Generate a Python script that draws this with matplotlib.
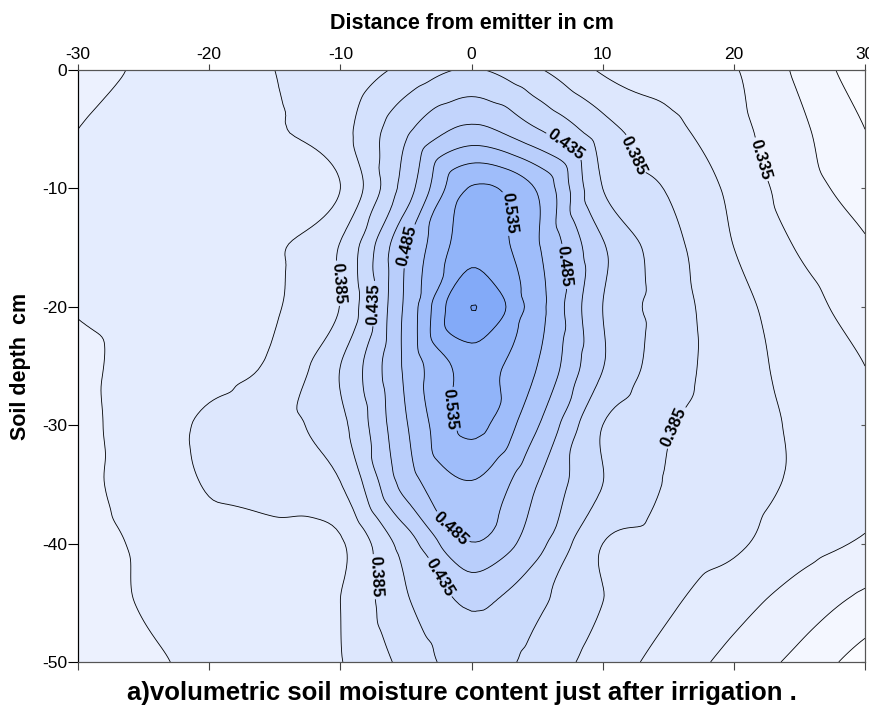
import numpy as np
import matplotlib
matplotlib.use('Agg')
import matplotlib.pyplot as plt
import matplotlib.tri as mtri
from matplotlib.colors import LinearSegmentedColormap, BoundaryNorm

plt.rcParams['font.family'] = ['Liberation Sans', 'DejaVu Sans']
plt.rcParams['axes.unicode_minus'] = False

# grid of readings: distance from emitter (cm) and soil depth (cm)
dist = [-30, -25, -20, -15, -10, -5, 0, 5, 10, 15, 20, 25, 30]
depth = [0, -5, -10, -15, -20, -25, -30, -35, -40, -45, -50]

# volumetric soil moisture, one row per depth
theta = [
    [0.325, 0.338, 0.349, 0.360, 0.366, 0.392, 0.412, 0.388, 0.357, 0.348, 0.337, 0.305, 0.268],
    [0.335, 0.340, 0.347, 0.358, 0.376, 0.430, 0.465, 0.436, 0.395, 0.367, 0.343, 0.315, 0.285],
    [0.338, 0.342, 0.345, 0.352, 0.360, 0.447, 0.537, 0.508, 0.410, 0.383, 0.354, 0.321, 0.299],
    [0.338, 0.342, 0.345, 0.357, 0.387, 0.484, 0.548, 0.513, 0.438, 0.395, 0.360, 0.333, 0.313],
    [0.336, 0.340, 0.345, 0.358, 0.386, 0.490, 0.5852, 0.520, 0.435, 0.398, 0.369, 0.345, 0.323],
    [0.331, 0.341, 0.350, 0.365, 0.410, 0.490, 0.543, 0.510, 0.436, 0.397, 0.372, 0.351, 0.335],
    [0.329, 0.345, 0.365, 0.377, 0.403, 0.483, 0.541, 0.487, 0.410, 0.387, 0.372, 0.356, 0.342],
    [0.330, 0.343, 0.362, 0.373, 0.384, 0.470, 0.508, 0.460, 0.410, 0.383, 0.370, 0.356, 0.342],
    [0.328, 0.338, 0.352, 0.350, 0.357, 0.422, 0.484, 0.443, 0.385, 0.375, 0.364, 0.345, 0.332],
    [0.325, 0.3365, 0.345, 0.345, 0.360, 0.407, 0.438, 0.415, 0.385, 0.364, 0.344, 0.323, 0.303],
    [0.320, 0.331, 0.340, 0.350, 0.359, 0.392, 0.423, 0.401, 0.374, 0.350, 0.327, 0.303, 0.272],
]

levels = np.round(np.arange(0.26, 0.611, 0.025), 3)
label_levels = [0.335, 0.385, 0.435, 0.485, 0.535]
plain_levels = [l for l in levels[1:-1] if l not in label_levels]

# smooth the grid like the gridding software does
X, Y = np.meshgrid(dist, depth)
Z = np.array(theta)
tri = mtri.Triangulation(X.ravel(), Y.ravel())
interp = mtri.CubicTriInterpolator(tri, Z.ravel(), kind='geom')
refiner = mtri.UniformTriRefiner(tri)
tri_f, z_f = refiner.refine_field(Z.ravel(), triinterpolator=interp, subdiv=4)

cmap = LinearSegmentedColormap.from_list('moist', ['#fbfcff', '#dae5fd', '#b2cafb', '#74a0f7'])
norm = BoundaryNorm(levels, cmap.N)

fig = plt.figure(figsize=(8.7, 7.08), dpi=100)
ax = fig.add_axes([0.0897, 0.065, 0.9046, 0.836])

ax.tricontourf(tri_f, z_f, levels=levels, cmap=cmap, norm=norm)
ax.tricontour(tri_f, z_f, levels=plain_levels, colors='black', linewidths=0.6)
cs = ax.tricontour(tri_f, z_f, levels=label_levels, colors='black', linewidths=0.6)

manual = [(6.9, -6.9), (-7.8, -19.7), (-2.7, -43),
          (13.0, -7.2), (-10.1, -18), (15.9, -30.4), (-7.4, -42.8),
          (22.5, -7.4),
          (-4.7, -14.9), (6.9, -16.6), (-0.9, -38),
          (2.3, -12.1), (-1.9, -28.7)]
lab = ax.clabel(cs, manual=manual, inline=True, inline_spacing=2, fmt='%.3f', fontsize=12)
for t in lab:
    t.set_fontweight('bold')

ax.set_xlim(-30, 30)
ax.set_ylim(-50, 0)
ax.set_xticks([-30, -20, -10, 0, 10, 20, 30])
ax.set_yticks([0, -10, -20, -30, -40, -50])
ax.xaxis.tick_top()
ax.xaxis.set_label_position('top')
ax.tick_params(axis='x', bottom=True, top=True, labelbottom=False, labeltop=True,
               direction='out', labelsize=12.5, pad=2, color='#444444')
ax.tick_params(axis='y', left=True, right=False, direction='out', length=7,
               labelsize=12.5, pad=1)
for t in ax.xaxis.get_major_ticks():
    t.tick1line.set_markersize(6)
    t.tick2line.set_markersize(4.5)

ax2 = ax.twinx()
ax2.set_ylim(-50, 0)
ax2.set_yticks([0, -10, -20, -30, -40, -50])
ax2.tick_params(axis='y', direction='in', length=3, labelright=False, color='#555555')

for a in (ax, ax2):
    for side in ['top', 'bottom', 'right']:
        a.spines[side].set_color('#555555')
    a.spines['left'].set_color('black')

ax.set_xlabel('Distance from emitter in cm', fontsize=15.5, fontweight='bold', labelpad=13)
ax.set_ylabel('Soil depth  cm', fontsize=15.5, fontweight='bold', labelpad=8)

fig.text(0.531, 0.021, 'a)volumetric soil moisture content just after irrigation .',
         ha='center', va='center', fontsize=18.5, fontweight='bold')

fig.savefig('out.png', dpi=100)
